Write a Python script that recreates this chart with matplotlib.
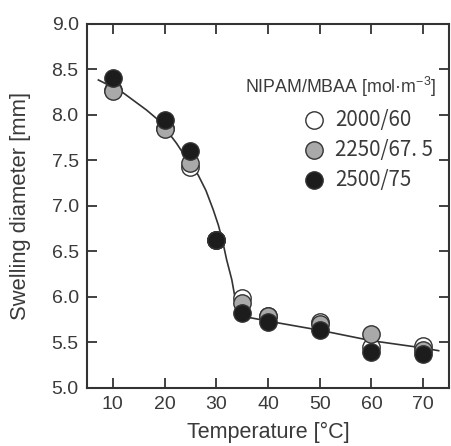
import numpy as np
import matplotlib.pyplot as plt

# measured points, temperature in degC, diameter in mm
temp = [10, 20, 25, 30, 35, 40, 50, 60, 70]
d_2000 = [8.28, 7.86, 7.43, 6.63, 5.99, 5.79, 5.72, 5.45, 5.46]
d_2250 = [8.26, 7.85, 7.47, 6.63, 5.93, 5.79, 5.70, 5.59, 5.42]
d_2500 = [8.41, 7.945, 7.60, 6.63, 5.82, 5.73, 5.64, 5.40, 5.37]

# fitted curve
fit_t = [7.2, 11.7, 16.5, 19.1, 22.3, 24.5, 26.5, 28.0, 29.4, 30.4, 31.2,
         32.0, 33.0, 33.6, 34.2, 34.8, 35.5, 36.8, 40, 50, 60, 70, 73]
fit_d = [8.385, 8.256, 8.055, 7.93, 7.69, 7.50, 7.34, 7.17, 6.96, 6.79, 6.62,
         6.41, 6.19, 6.00, 5.86, 5.80, 5.785, 5.77, 5.735, 5.635, 5.52, 5.44, 5.41]

labels = ["2000/60", "2250/67. 5", "2500/75"]
colors = ["white", "#a9a9a9", "#1c1c1c"]

txt = "#3a3a3a"
plt.rcParams['font.family'] = ['Liberation Sans', 'DejaVu Sans']

fig = plt.figure(figsize=(4.51, 4.46), dpi=100)
ax = fig.add_axes([87/451, 1-388/446, 362/451, 364/446])

ax.plot(fit_t, fit_d, color="#333333", lw=1.2, zorder=2)
for d, c in zip([d_2000, d_2250, d_2500], colors):
    ax.plot(temp, d, 'o', ms=12.5, mfc=c, mec="#333333", mew=1.0, zorder=3)

ax.set_xlim(5, 75)
ax.set_ylim(5.0, 9.0)
ax.set_xticks(range(10, 71, 10))
ax.set_yticks(np.arange(5.0, 9.01, 0.5))
ax.set_yticklabels(["%.1f" % v for v in np.arange(5.0, 9.01, 0.5)])
ax.tick_params(direction='in', length=7, width=1.3, top=True, right=True,
               labelsize=14, colors="#333333", labelcolor=txt, pad=6)
for s in ax.spines.values():
    s.set_linewidth(1.5)
    s.set_color("#333333")

ax.set_xlabel("Temperature [\u00b0C]", fontsize=15.5, color=txt, va='center')
ax.set_ylabel("Swelling diameter [mm]", fontsize=15.8, color=txt, va='center')
ax.xaxis.set_label_coords(0.5, -0.121)
ax.yaxis.set_label_coords(-0.185, 0.5)

# legend drawn by hand
ax.text(0.965, 0.827, "NIPAM/MBAA [mol\u00b7m$^{\\mathregular{-3}}$]", transform=ax.transAxes,
        ha='right', va='center', fontsize=12.8, color=txt)
for i, (lab, c) in enumerate(zip(labels, colors)):
    y = 0.737 - i * 0.083
    ax.plot([0.627], [y], 'o', transform=ax.transAxes, ms=12.5, mfc=c,
            mec="#333333", mew=1.0, clip_on=False)
    ax.text(0.685, y, lab, transform=ax.transAxes, ha='left', va='center',
            fontsize=14.8, color=txt, family=['Noto Sans CJK JP', 'DejaVu Sans'])

fig.savefig("out.png", dpi=100)
